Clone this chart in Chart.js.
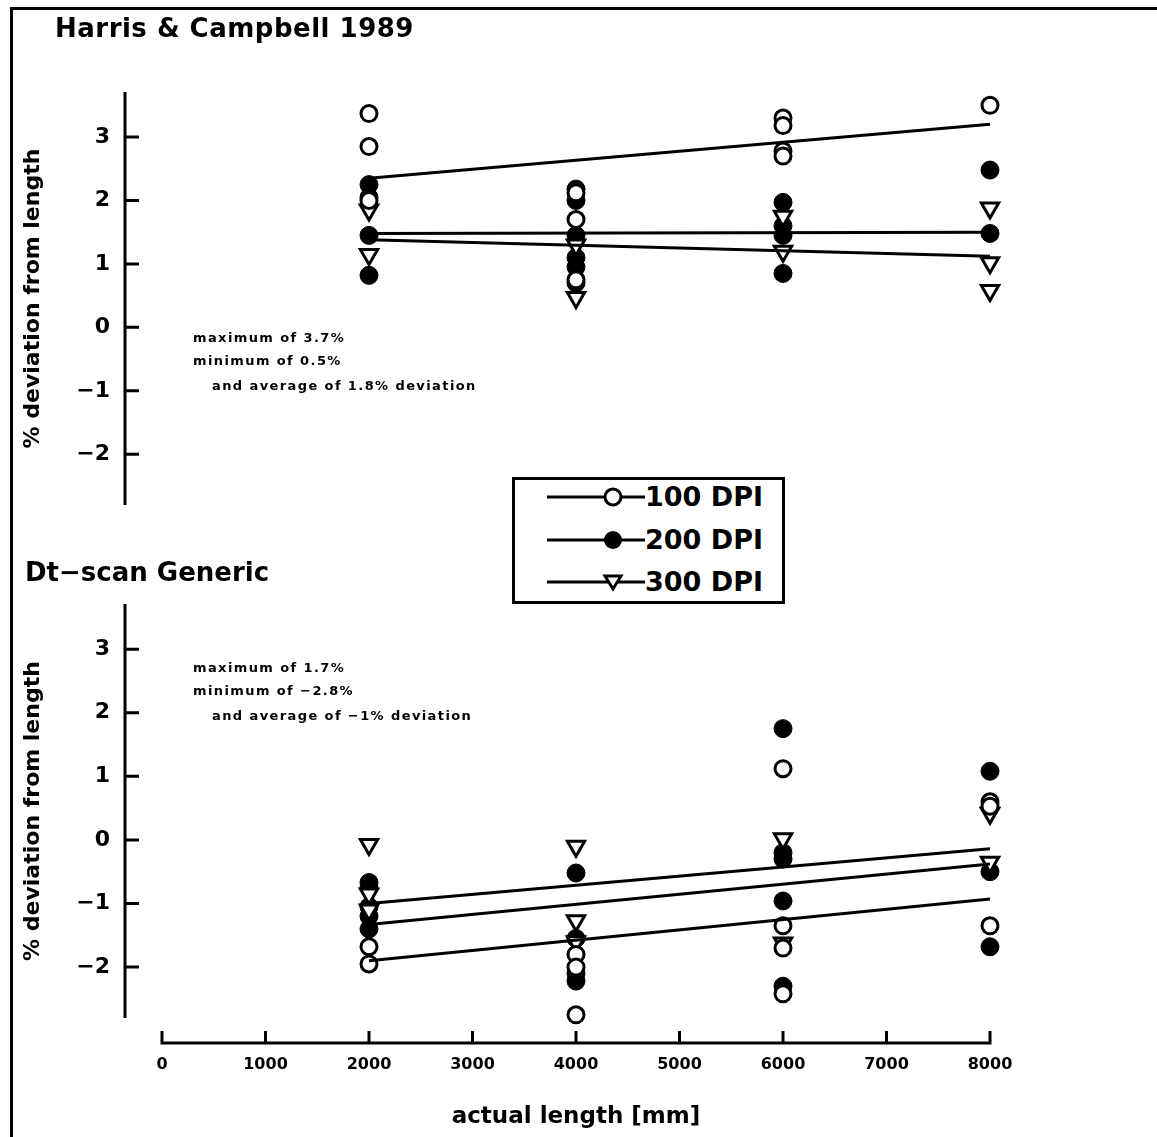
<!DOCTYPE html>
<html>
<head>
<meta charset="utf-8">
<script src="https://cdn.jsdelivr.net/npm/chart.js@4"></script>
<style>
  body { margin: 0; background: #fff; width: 1157px; height: 1137px; position: relative; overflow: hidden; font-family: 'DejaVu Sans', sans-serif; color: #000; }
  .frame { position: absolute; left: 10px; top: 7px; width: 1300px; height: 1300px; border-left: 3px solid #000; border-top: 3px solid #000; }
  canvas { position: absolute; left: 0; }
  #top { top: 0; }
  #bottom { top: 540px; }
  .title { position: absolute; font-size: 26px; font-weight: bold; white-space: nowrap; line-height: 1; }
  .note { position: absolute; font-size: 13px; font-weight: bold; letter-spacing: 1.4px; white-space: nowrap; line-height: 1; }
  #legend { position: absolute; left: 512px; top: 477px; width: 273px; height: 127px; box-sizing: border-box; border: 3px solid #000; background: #fff; }
  .row { position: absolute; left: 0; width: 100%; height: 30px; }
  .row svg { position: absolute; left: 32px; top: 3px; }
  .row span { position: absolute; left: 130px; top: 0; font-size: 27px; font-weight: bold; line-height: 30px; white-space: nowrap; }
</style>
</head>
<body>
<div class="frame"></div>
<canvas id="top" width="1157" height="540"></canvas>
<canvas id="bottom" width="1157" height="617"></canvas>

<div class="title" style="left:55px; top:15px; letter-spacing:0.5px;">Harris &amp; Campbell 1989</div>
<div class="title" style="left:25px; top:559px;">Dt−scan Generic</div>

<div class="note" style="left:193px; top:331px;">maximum of 3.7%</div>
<div class="note" style="left:193px; top:354px;">minimum of 0.5%</div>
<div class="note" style="left:212px; top:379px;">and average of 1.8% deviation</div>

<div class="note" style="left:193px; top:661px;">maximum of 1.7%</div>
<div class="note" style="left:193px; top:684px;">minimum of −2.8%</div>
<div class="note" style="left:212px; top:709px;">and average of −1% deviation</div>

<div id="legend">
  <div class="row" style="top:2px;">
    <svg width="98" height="24"><line x1="0" y1="12" x2="98" y2="12" stroke="#000" stroke-width="3"/><circle cx="66" cy="12" r="8" fill="#fff" stroke="#000" stroke-width="3"/></svg>
    <span>100 DPI</span>
  </div>
  <div class="row" style="top:45px;">
    <svg width="98" height="24"><line x1="0" y1="12" x2="98" y2="12" stroke="#000" stroke-width="3"/><circle cx="66" cy="12" r="9" fill="#000"/></svg>
    <span>200 DPI</span>
  </div>
  <div class="row" style="top:87px;">
    <svg width="98" height="24"><line x1="0" y1="12" x2="98" y2="12" stroke="#000" stroke-width="3"/><polygon points="58,6 74,6 66,19" fill="#fff" stroke="#000" stroke-width="3"/></svg>
    <span>300 DPI</span>
  </div>
</div>

<script>
const xValues = [2000, 4000, 6000, 8000];
const xTicks = [0, 1000, 2000, 3000, 4000, 5000, 6000, 7000, 8000];
const yTicks = [-2, -1, 0, 1, 2, 3];
const fitX = [2000, 8000];

// Harris & Campbell 1989 (readings at each x position)
const hc100 = [[3.37, 2.85, 2.0], [2.12, 1.7, 0.75], [3.3, 3.18, 2.78, 2.7], [3.5]];
const hc200 = [[2.25, 2.05, 1.45, 0.82], [2.18, 2.0, 1.45, 1.1, 0.95, 0.7], [1.97, 1.6, 1.45, 0.85], [2.48, 1.48]];
const hc300 = [[1.85, 1.15], [1.3, 0.47], [1.75, 1.2], [1.88, 1.02, 0.58]];
const hcFit100 = [2.35, 3.2];
const hcFit200 = [1.48, 1.5];
const hcFit300 = [1.38, 1.12];

// Dt-scan Generic
const dt100 = [[-1.68, -1.95], [-1.8, -2.0, -2.75], [1.12, -1.35, -1.7, -2.42], [0.6, 0.53, -1.35]];
const dt200 = [[-0.67, -0.75, -1.05, -1.2, -1.4], [-0.52, -1.55, -2.1, -2.22], [1.75, -0.2, -0.3, -0.96, -2.3], [1.08, -0.5, -1.68]];
const dt300 = [[-0.07, -0.85, -1.1], [-0.1, -1.27, -1.6], [0.02, -1.62], [0.42, -0.35]];
const dtFit100 = [-1.9, -0.93];
const dtFit200 = [-1.0, -0.14];
const dtFit300 = [-1.33, -0.38];

function pts(series) {
  return series.flatMap((vals, i) => vals.map(v => ({ x: xValues[i], y: v })));
}
function fit(vals) {
  return vals.map((v, i) => ({ x: fitX[i], y: v }));
}

// axis lines drawn offset from the plot, ticks pointing inward
const axesPlugin = {
  id: 'axes',
  afterDraw(chart) {
    const ctx = chart.ctx, a = chart.chartArea;
    const y = chart.scales.y, x = chart.scales.x;
    const ax = a.left - 37;
    ctx.save();
    ctx.strokeStyle = '#000';
    ctx.lineWidth = 3;
    ctx.beginPath();
    ctx.moveTo(ax, a.top);
    ctx.lineTo(ax, a.bottom);
    yTicks.forEach(v => {
      const py = y.getPixelForValue(v);
      ctx.moveTo(ax, py);
      ctx.lineTo(ax + 14, py);
    });
    if (chart.options.plugins.axes.xAxis) {
      const ay = a.bottom + 25;
      ctx.moveTo(x.getPixelForValue(0) - 1.5, ay);
      ctx.lineTo(x.getPixelForValue(8000) + 1.5, ay);
      xTicks.forEach(v => {
        const px = x.getPixelForValue(v);
        ctx.moveTo(px, ay);
        ctx.lineTo(px, ay - 12);
      });
    }
    ctx.stroke();
    ctx.restore();
  }
};

function makeChart(id, s100, s200, s300, f100, f200, f300, bottomAxis) {
  const lineStyle = { type: 'line', showLine: true, borderColor: '#000', borderWidth: 3, pointRadius: 0, fill: false, clip: false };
  new Chart(document.getElementById(id), {
    type: 'scatter',
    data: {
      datasets: [
        { ...lineStyle, data: fit(f100) },
        { ...lineStyle, data: fit(f200) },
        { ...lineStyle, data: fit(f300) },
        { label: '100 DPI', data: pts(s100), pointStyle: 'circle', pointRadius: 8, backgroundColor: '#fff', borderColor: '#000', borderWidth: 3, clip: false },
        { label: '300 DPI', data: pts(s300), pointStyle: 'triangle', rotation: 180, pointRadius: 10, backgroundColor: '#fff', borderColor: '#000', borderWidth: 3, clip: false },
        { label: '200 DPI', data: pts(s200), pointStyle: 'circle', pointRadius: 9, backgroundColor: '#000', borderColor: '#000', borderWidth: 1, clip: false }
      ]
    },
    options: {
      responsive: false,
      animation: false,
      devicePixelRatio: 1,
      layout: { padding: bottomAxis ? { top: 64, right: 167, bottom: 0, left: 0 } : { top: 92, right: 167, bottom: 35, left: 0 } },
      plugins: {
        legend: { display: false },
        tooltip: { enabled: false },
        axes: { xAxis: bottomAxis }
      },
      scales: {
        x: {
          type: 'linear',
          min: 0,
          max: 8000,
          display: bottomAxis,
          grid: { display: false, drawTicks: false },
          border: { display: false },
          afterBuildTicks: s => { s.ticks = xTicks.map(v => ({ value: v })); },
          afterFit: s => { s.height = bottomAxis ? 139 : 0; },
          ticks: {
            color: '#000',
            padding: 37,
            maxRotation: 0,
            autoSkip: false,
            callback: v => String(v),
            font: { family: "'DejaVu Sans', sans-serif", size: 16, weight: 'bold' }
          },
          title: {
            display: true,
            text: 'actual length [mm]',
            color: '#000',
            padding: { top: 0, bottom: 26 },
            font: { family: "'DejaVu Sans', sans-serif", size: 23, weight: 'bold' }
          }
        },
        y: {
          min: -2.8,
          max: 3.71,
          grid: { display: false, drawTicks: true, tickLength: 37 },
          border: { display: false },
          afterBuildTicks: s => { s.ticks = yTicks.map(v => ({ value: v })); },
          afterFit: s => { s.width = 162; },
          ticks: {
            color: '#000',
            padding: 15,
            callback: v => v < 0 ? '\u2212' + Math.abs(v) : String(v),
            font: { family: "'DejaVu Sans', sans-serif", size: 22, weight: 'bold' }
          },
          title: {
            display: true,
            text: '% deviation from length',
            color: '#000',
            padding: { top: 20, bottom: 0 },
            font: { family: "'DejaVu Sans', sans-serif", size: 22, weight: 'bold' }
          }
        }
      }
    },
    plugins: [axesPlugin]
  });
}

makeChart('top', hc100, hc200, hc300, hcFit100, hcFit200, hcFit300, false);
makeChart('bottom', dt100, dt200, dt300, dtFit100, dtFit200, dtFit300, true);
</script>
</body>
</html>
